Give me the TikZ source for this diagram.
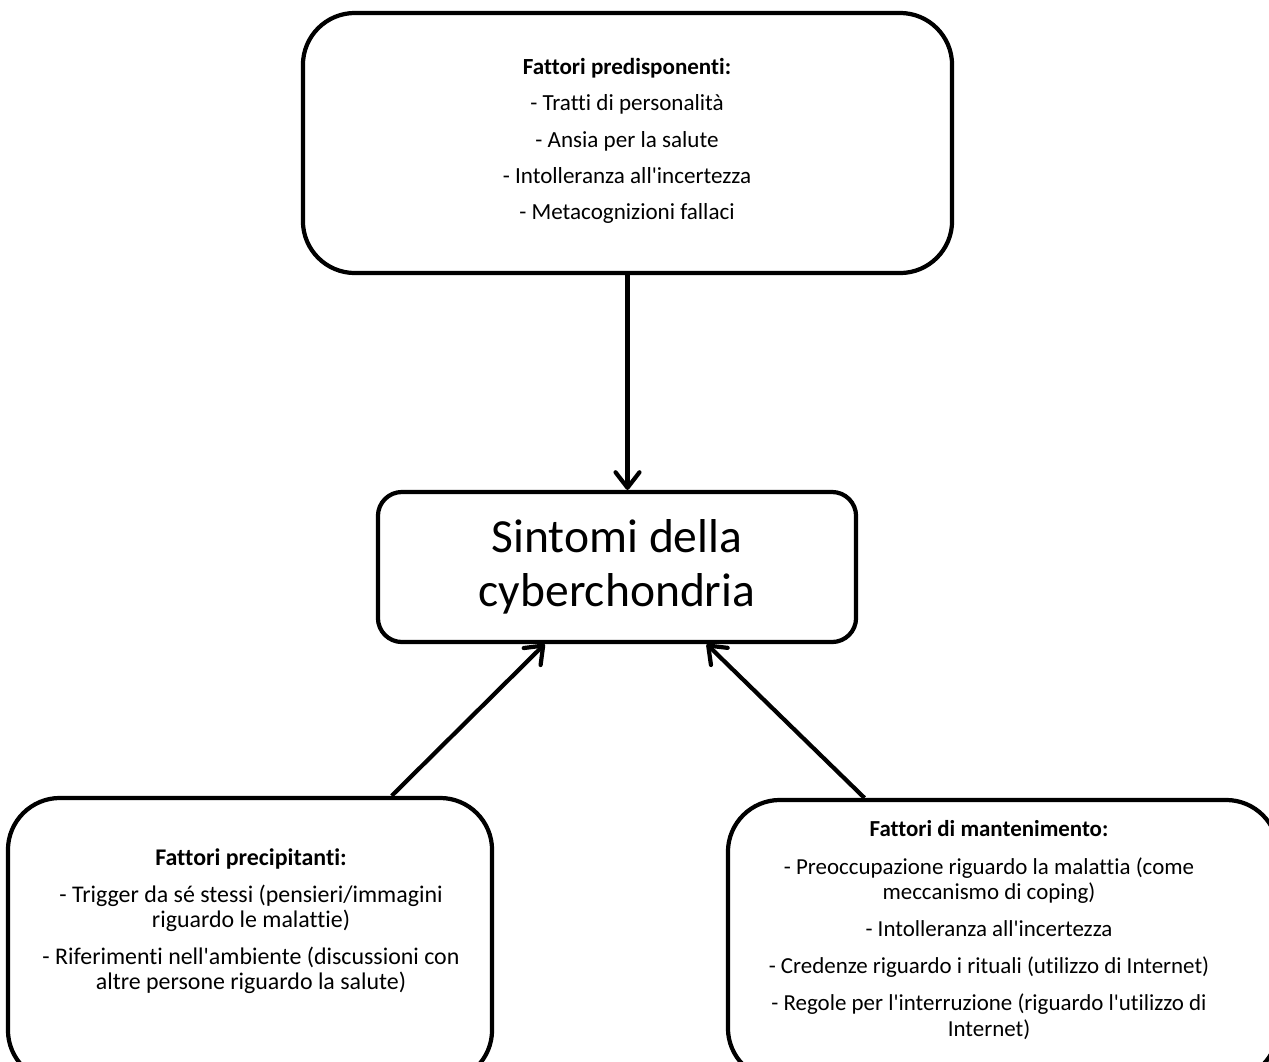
\documentclass[tikz,border=0pt]{standalone}
\usepackage{fontspec}
\setmainfont{Carlito}[Ligatures={TeX,NoCommon}]
\usepackage{tikz}
\usetikzlibrary{arrows.meta, positioning, calc}

\begin{document}
\begin{tikzpicture}[
    x=0.025cm, y=-0.025cm,
    factor/.style={draw, line width=3pt, rounded corners=1.3cm, inner sep=0pt},
    factortext/.style={align=center, font=\fontsize{17}{17.8}\selectfont},
    symptom/.style={draw, line width=3pt, rounded corners=0.6cm, minimum width=11.95cm, minimum height=3.75cm, align=center, font=\fontsize{33.8}{38.5}\selectfont},
    cause/.style={-{Straight Barb[length=11pt, width=17pt, round]}, line width=3pt}
]
    \clip (0,0) rectangle (1269,1061);

    % Predisposing factors
    \node[factor, minimum width=16.225cm, minimum height=6.5cm] (pred) at (627.5,143) {};
    \node[factortext, font=\fontsize{16.4}{17.8}\selectfont] (predtext) at (627,141) {\textbf{Fattori predisponenti:}\\[8pt]
        - Tratti di personalità\\[8pt]
        - Ansia per la salute\\[8pt]
        - Intolleranza all\textquotesingle incertezza\\[8pt]
        - Metacognizioni fallaci};

    % Symptoms
    \node[symptom] (sint) at (617,567) {Sintomi della\\cyberchondria};

    % Precipitating factors
    \node[factor, minimum width=12.1cm, minimum height=7.1cm] (prec) at (250,940) {};
    \node[factortext] (prectext) at (251,921) {\textbf{Fattori precipitanti:}\\[8.7pt]
        - Trigger da sé stessi (pensieri/immagini\\
        riguardo le malattie)\\[8.7pt]
        - Riferimenti nell\textquotesingle ambiente (discussioni con\\
        altre persone riguardo la salute)};

    % Maintaining factors
    \node[factor, minimum width=13.75cm, minimum height=7cm] (mant) at (1003,940) {};
    \node[factortext, font=\fontsize{16.3}{17.8}\selectfont] (manttext) at (989,930) {\textbf{Fattori di mantenimento:}\\[8.7pt]
        - Preoccupazione riguardo la malattia (come\\
        meccanismo di coping)\\[8.7pt]
        - Intolleranza all\textquotesingle incertezza\\[8.7pt]
        - Credenze riguardo i rituali (utilizzo di Internet)\\[8.7pt]
        - Regole per l\textquotesingle interruzione (riguardo l\textquotesingle utilizzo di\\
        Internet)};

    % Relations
    \draw[cause] (pred.south) -- (pred.south |- sint.north);
    \draw[cause] ($(prec.north west)!0.79!(prec.north east)$) -- ($(sint.south west)!0.35!(sint.south east)$);
    \draw[cause] ($(mant.north west)!0.25!(mant.north east)$) -- ($(sint.south west)!0.686!(sint.south east)$);
\end{tikzpicture}
\end{document}
